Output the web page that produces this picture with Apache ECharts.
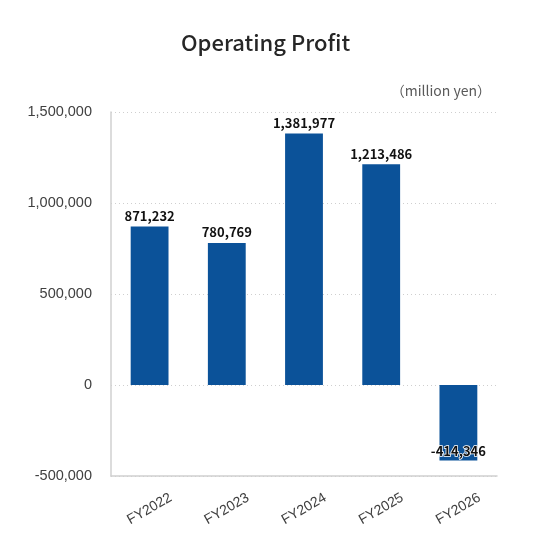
<!DOCTYPE html>
<html>
<head>
<meta charset="utf-8">
<script src="https://cdn.jsdelivr.net/npm/echarts@6/dist/echarts.min.js"></script>
<style>
  html, body { margin: 0; padding: 0; background: #fff; }
  #main { width: 535px; height: 548px; }
</style>
</head>
<body>
<div id="main"></div>
<script>
  // data
  var years = ['FY2022', 'FY2023', 'FY2024', 'FY2025', 'FY2026'];
  var profit = [871232, 780769, 1381977, 1213486, -414346];

  var myChart = echarts.init(document.getElementById('main'));
  var jp = '"Noto Sans CJK JP", "Noto Sans", sans-serif';
  var arial = 'Arial, "Liberation Sans", sans-serif';

  // negative bar gets its label inside, at the bottom
  var barData = profit.map(function (v) {
    if (v < 0) {
      return {
        value: v,
        label: {
          position: 'insideBottom',
          distance: 3,
          textBorderColor: '#fff',
          textBorderWidth: 1.5
        }
      };
    }
    return v;
  });

  var option = {
    animation: false,
    title: {
      text: 'Operating Profit',
      left: 176,
      top: 27,
      textStyle: { fontFamily: jp, fontSize: 22, fontWeight: 500, color: '#262626' }
    },
    graphic: [{
      type: 'text',
      right: 44,
      top: 84,
      style: { text: '（million yen）', fontFamily: jp, fontSize: 14, fill: '#595959' }
    }],
    grid: { left: 111, right: 38, top: 112, bottom: 72 },
    xAxis: {
      type: 'category',
      data: years,
      axisLine: { onZero: false, lineStyle: { color: '#d0d0d0', width: 1.5 } },
      axisTick: { show: false },
      axisLabel: {
        rotate: 30, margin: 33, align: 'center', verticalAlign: 'middle',
        color: '#404040', fontSize: 14, fontFamily: arial
      }
    },
    yAxis: {
      type: 'value',
      min: -500000,
      max: 1500000,
      interval: 500000,
      axisLine: { show: true, lineStyle: { color: '#d0d0d0', width: 1.5 } },
      axisTick: { show: false },
      splitLine: { lineStyle: { color: '#cfcfcf', type: [1, 3] } },
      axisLabel: {
        margin: 19, color: '#404040', fontSize: 14.5, fontFamily: arial,
        formatter: function (v) { return v.toLocaleString('en-US'); }
      }
    },
    series: [{
      type: 'bar',
      data: barData,
      barWidth: '49%',
      itemStyle: { color: '#0b5299' },
      label: {
        show: true,
        position: 'top',
        distance: 4,
        fontFamily: jp,
        fontSize: 13,
        fontWeight: 'bold',
        color: '#111',
        formatter: function (p) { return p.value.toLocaleString('en-US'); }
      }
    }]
  };

  myChart.setOption(option);
</script>
</body>
</html>
